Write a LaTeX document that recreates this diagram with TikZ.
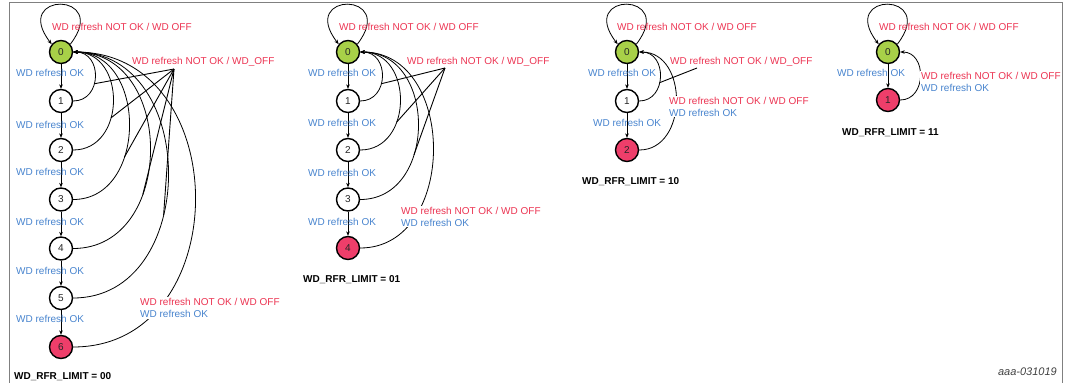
\documentclass[tikz,border=0pt]{standalone}
\usepackage{fontspec}
\setmainfont{Liberation Sans}
\usetikzlibrary{arrows.meta}
\definecolor{ngreen}{RGB}{168,208,72}
\definecolor{nred}{RGB}{238,62,106}
\definecolor{tred}{RGB}{236,52,82}
\definecolor{tblue}{RGB}{72,132,206}
\begin{document}
\begin{tikzpicture}[x=1pt,y=-1pt,
  st/.style={circle,draw,line width=1.4pt,minimum size=23pt,inner sep=0pt,font=\fontsize{10}{12}\selectfont,text=black!85},
  st0/.style={st,fill=ngreen},
  stE/.style={st,fill=nred},
  tip/.style={-{Stealth[length=4.5pt,width=3.6pt]}},
  vline/.style={tip,line width=0.6pt},
  ok/.style={text=tblue,font=\fontsize{10}{12}\selectfont,inner sep=0pt,anchor=west},
  nok/.style={text=tred,font=\fontsize{10}{12}\selectfont,inner sep=0pt,anchor=west},
  both/.style={fill=white,inner sep=1pt,anchor=west,align=left,font=\fontsize{10}{12}\selectfont},
  lim/.style={font=\bfseries\fontsize{10}{12}\selectfont,inner sep=0pt,anchor=west},
  curve/.style={line width=0.8pt,tip},
  hub/.style={line width=0.9pt},
]
\useasboundingbox (0,0) rectangle (1066,383);
\draw[black!50,line width=0.8pt] (9,383) -- (9,2) -- (1062,2) -- (1062,383);

% ---------------- Diagram 1 ----------------
\node[st0] (a0) at (61,52) {0};
\node[st] (a1) at (61,101) {1};
\node[st] (a2) at (61,150) {2};
\node[st] (a3) at (61,199.5) {3};
\node[st] (a4) at (61,248.5) {4};
\node[st] (a5) at (61,298) {5};
\node[stE] (a6) at (61,347) {6};
\foreach \p/\q in {a0/a1,a1/a2,a2/a3,a3/a4,a4/a5,a5/a6} \draw[vline] (\p) -- (\q);
\node[ok] (ao1) at (16,73) {WD refresh OK};
\node[ok] (ao2) at (16,125) {WD refresh OK};
\node[ok] (ao3) at (16,172) {WD refresh OK};
\node[ok] (ao4) at (16,222) {WD refresh OK};
\node[ok] (ao5) at (16,271) {WD refresh OK};
\node[ok] (ao6) at (16,319) {WD refresh OK};
\draw[curve] (a0.40) .. controls +(41,-53) and +(-41,-53) .. (a0.140);
\node[nok] (aloop) at (52,27) {WD refresh NOT OK / WD OFF};
\draw[curve] (a1.east) .. controls +(29.3,0) and +(29.3,0) .. (a0.east) coordinate[pos=0.4] (ac1);
\draw[curve] (a2.east) .. controls +(53.3,0) and +(53.3,0) .. (a0.east) coordinate[pos=0.383] (ac2);
\draw[curve] (a3.east) .. controls +(74.7,0) and +(74.7,0) .. (a0.east) coordinate[pos=0.355] (ac3);
\draw[curve] (a4.east) .. controls +(102.7,0) and +(102.7,0) .. (a0.east) coordinate[pos=0.345] (ac4);
\draw[curve] (a5.east) .. controls +(126.7,0) and +(126.7,0) .. (a0.east) coordinate[pos=0.39] (ac5);
\draw[curve] (a6.east) .. controls +(162.7,0) and +(162.7,0) .. (a0.east);
\coordinate (ahub) at (174,69);
\foreach \c in {ac1,ac2,ac3,ac4,ac5} \draw[hub] (ahub) -- (\c);
\node[nok] (ahl) at (132,62) {WD refresh NOT OK / WD\_OFF};
\node[both] (ab) at (139,308) {\textcolor{tred}{WD refresh NOT OK / WD OFF}\\\textcolor{tblue}{WD refresh OK}};
\node[lim] (alim) at (14,377) {WD\_RFR\_LIMIT = 00};

% ---------------- Diagram 2 ----------------
\node[st0] (b0) at (348,52) {0};
\node[st] (b1) at (348,101) {1};
\node[st] (b2) at (348,150) {2};
\node[st] (b3) at (348,199.5) {3};
\node[stE] (b4) at (348,248) {4};
\foreach \p/\q in {b0/b1,b1/b2,b2/b3,b3/b4} \draw[vline] (\p) -- (\q);
\node[ok] (bo1) at (308,73) {WD refresh OK};
\node[ok] (bo2) at (308,123) {WD refresh OK};
\node[ok] (bo3) at (308,173) {WD refresh OK};
\node[ok] (bo4) at (308,222) {WD refresh OK};
\draw[curve] (b0.40) .. controls +(41,-53) and +(-41,-53) .. (b0.140);
\node[nok] (bloop) at (339,27) {WD refresh NOT OK / WD OFF};
\draw[curve] (b1.east) .. controls +(29.3,0) and +(29.3,0) .. (b0.east) coordinate[pos=0.4] (bc1);
\draw[curve] (b2.east) .. controls +(53.3,0) and +(53.3,0) .. (b0.east) coordinate[pos=0.352] (bc2);
\draw[curve] (b3.east) .. controls +(77.3,0) and +(77.3,0) .. (b0.east) coordinate[pos=0.365] (bc3);
\draw[curve] (b4.east) .. controls +(97.3,0) and +(97.3,0) .. (b0.east);
\coordinate (bhub) at (445,68);
\foreach \c in {bc1,bc2,bc3} \draw[hub] (bhub) -- (\c);
\node[nok] (bhl) at (407,62) {WD refresh NOT OK / WD\_OFF};
\node[both] (bb) at (400,216.5) {\textcolor{tred}{WD refresh NOT OK / WD OFF}\\\textcolor{tblue}{WD refresh OK}};
\node[lim] (blim) at (303,280) {WD\_RFR\_LIMIT = 01};

% ---------------- Diagram 3 ----------------
\node[st0] (c0) at (627,52) {0};
\node[st] (c1) at (627,101) {1};
\node[stE] (c2) at (627,150) {2};
\foreach \p/\q in {c0/c1,c1/c2} \draw[vline] (\p) -- (\q);
\node[ok] (co1) at (588,73) {WD refresh OK};
\node[ok] (co2) at (593,123) {WD refresh OK};
\draw[curve] (c0.40) .. controls +(41,-53) and +(-41,-53) .. (c0.140);
\node[nok] (cloop) at (617,27) {WD refresh NOT OK / WD OFF};
\draw[curve] (c1.east) .. controls +(28,0) and +(28,0) .. (c0.east) coordinate[pos=0.415] (cc1);
\draw[curve] (c2.east) .. controls +(49.3,0) and +(49.3,0) .. (c0.east);
\coordinate (chub) at (697,68);
\draw[hub] (chub) -- (cc1);
\node[nok] (chl) at (670,62) {WD refresh NOT OK / WD\_OFF};
\node[both] (cb) at (668,106.5) {\textcolor{tred}{WD refresh NOT OK / WD OFF}\\\textcolor{tblue}{WD refresh OK}};
\node[lim] (clim) at (582,182) {WD\_RFR\_LIMIT = 10};

% ---------------- Diagram 4 ----------------
\node[st0] (d0) at (888,52) {0};
\node[stE] (d1) at (888,100) {1};
\draw[vline] (d0) -- (d1);
\node[ok] (do1) at (837,73) {WD refresh OK};
\draw[curve] (d0.40) .. controls +(41,-53) and +(-41,-53) .. (d0.140);
\node[nok] (dloop) at (879,27) {WD refresh NOT OK / WD OFF};
\draw[curve] (d1.east) .. controls +(26.7,0) and +(26.7,0) .. (d0.east);
\node[both] (db) at (920,81.5) {\textcolor{tred}{WD refresh NOT OK / WD OFF}\\\textcolor{tblue}{WD refresh OK}};
\node[lim] (dlim) at (842,133) {WD\_RFR\_LIMIT = 11};

\node[anchor=east,inner sep=0pt,font=\itshape\fontsize{11}{13}\selectfont,text=black!75] (code) at (1057,372) {aaa-031019};
\end{tikzpicture}
\end{document}
